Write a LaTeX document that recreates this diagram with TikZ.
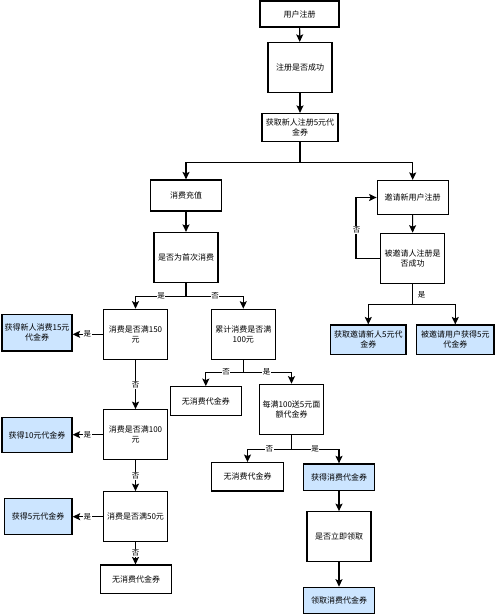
\documentclass[tikz,border=0pt]{standalone}
\usepackage{fontspec}
\setmainfont{Noto Sans CJK SC}
\usetikzlibrary{arrows.meta}
\definecolor{boxblue}{HTML}{CCE5FF}
\tikzset{
  box/.style={draw=black, line width=1.2pt, fill=white, rectangle, inner sep=1pt,
    align=center, font=\fontsize{8}{10}\selectfont},
  bluebox/.style={box, fill=boxblue},
  arr/.style={line width=1.2pt, -{Stealth[length=7.5pt,width=7pt,inset=1.5pt]}},
  lbl/.style={fill=white, inner sep=0.6pt, font=\fontsize{7.5}{9}\selectfont}
}
\newcommand{\bx}[6][box]{\node[#1, minimum width=#5pt, minimum height=#6pt] (#2) at (#3,#4)}
\begin{document}
\begin{tikzpicture}[x=1pt,y=-1pt]
\useasboundingbox[fill=white] (0,0) rectangle (500,615);
% nodes
\bx{reg}{299.5}{14}{79}{26} {用户注册};
\bx{ok}{300}{67.5}{64}{50} {注册是否成功};
\bx{getf}{300}{127.5}{76}{28} {获取新人注册5元代\\金券};
\bx{charge}{186}{195.5}{71}{31} {消费充值};
\bx{invite}{412.7}{197.5}{71}{34} {邀请新用户注册};
\bx{first}{186}{257.5}{64}{50} {是否为首次消费};
\bx{invok}{412.5}{258.3}{64}{50} {被邀请人注册是\\否成功};
\bx[bluebox]{gi}{368.3}{339.7}{75.3}{29.3} {获取邀请新人5元代\\金券};
\bx[bluebox]{gu}{455.3}{339.7}{77.3}{29.3} {被邀请用户获得5元\\代金券};
\bx{cA}{135.5}{334.3}{64}{50} {消费是否满150\\元};
\bx{acc}{243.3}{334.3}{64}{50} {累计消费是否满\\100元};
\bx[bluebox]{gA}{37}{332.7}{70}{36.5} {获得新人消费15元\\代金券};
\bx{noA}{205.8}{401.2}{71}{29} {无消费代金券};
\bx{every}{291.5}{409.3}{64}{50} {每满100送5元面\\额代金券};
\bx{cB}{135.5}{434.7}{64}{50} {消费是否满100\\元};
\bx[bluebox]{gB}{37}{435}{70}{34.6} {获得10元代金券};
\bx{noB}{247.5}{476.8}{71.6}{28.3} {无消费代金券};
\bx[bluebox]{gotc}{339}{477.3}{71.4}{26.7} {获得消费代金券};
\bx{now}{339}{536.7}{64}{50} {是否立即领取};
\bx[bluebox]{take}{339}{600.3}{71.4}{26} {领取消费代金券};
\bx{cC}{135.5}{516.7}{64}{50} {消费是否满50元};
\bx[bluebox]{gC}{38.2}{516.3}{67.7}{36} {获得5元代金券};
\bx{noC}{136}{579.2}{71.4}{28.3} {无消费代金券};
% connectors
\draw[arr] (reg) -- (ok);
\draw[arr] (ok) -- (getf);
\draw[arr] (getf.south) -- ++(0,20.2) -| (charge.north);
\draw[arr] (getf.south) -- ++(0,20.2) -| (invite.north);
\draw[arr] (charge) -- (first);
\draw[arr] (invite) -- (invok);
\draw[arr] (invok.west) -- ++(-24,0) |- (invite.west);
\node[lbl] at (356.7,230) {否};
\draw[arr] (invok.south) -- ++(0,20.7) -| (gi.north);
\draw[arr] (invok.south) -- ++(0,20.7) -| (gu.north);
\node[inner sep=0pt, font=\fontsize{7.5}{9}\selectfont] at (421.5,295) {是};
\draw[arr] (first.south) -- ++(0,13.2) -| (cA.north);
\draw[arr] (first.south) -- ++(0,13.2) -| (acc.north);
\node[lbl] at (161,295.7) {是};
\node[lbl] at (215,295.7) {否};
\draw[arr] (cA.west) -- (gA.east |- cA.west);
\node[lbl] at (87.3,334.3) {是};
\draw[arr] (cA) -- (cB);
\node[lbl] at (135.5,385) {否};
\draw[arr] (cB.west) -- (gB.east |- cB.west);
\node[lbl] at (87.3,434.7) {是};
\draw[arr] (cB) -- (cC);
\node[lbl] at (135.5,476) {否};
\draw[arr] (cC.west) -- (gC.east |- cC.west);
\node[lbl] at (87.3,516.7) {是};
\draw[arr] (cC.south) -- (cC.south |- noC.north);
\node[lbl] at (135.5,553.3) {否};
\draw[arr] (acc.south) -- ++(0,12.4) -| (noA.north);
\draw[arr] (acc.south) -- ++(0,12.4) -| (every.north);
\node[lbl] at (226,371.7) {否};
\node[lbl] at (266.7,371.7) {是};
\draw[arr] (every.south) -- ++(0,14.7) -| (noB.north);
\draw[arr] (every.south) -- ++(0,14.7) -| (gotc.north);
\node[lbl] at (269.3,449) {否};
\node[lbl] at (315,449) {是};
\draw[arr] (gotc) -- (now);
\draw[arr] (now) -- (take);
\end{tikzpicture}
\end{document}
